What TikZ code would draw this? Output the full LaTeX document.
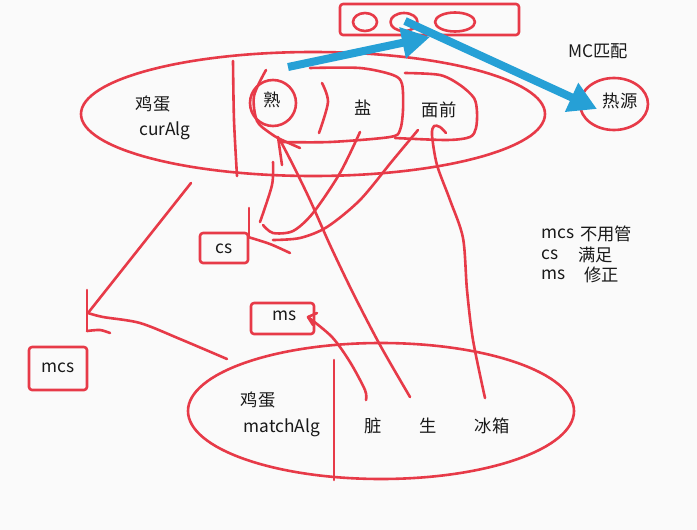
\documentclass[tikz,border=0pt]{standalone}
\usepackage{fontspec}
\setmainfont{Noto Sans CJK SC}
\usetikzlibrary{arrows.meta,shapes.geometric}
\definecolor{pen}{RGB}{231,58,72}
\definecolor{blu}{RGB}{38,160,214}
\definecolor{bg}{RGB}{250,250,250}
\begin{document}
\begin{tikzpicture}[x=1pt,y=-1pt,
  pen/.style={draw=pen,line width=2.6pt,line cap=round,line join=round},
  lbl/.style={font=\fontsize{17.3}{20}\selectfont,inner sep=0pt,text=black!90},
  boxn/.style={pen,rectangle,rounded corners=3pt,inner sep=0pt},
  oval/.style={pen,ellipse,inner sep=0pt},
  bluearrow/.style={draw=blu,line width=8pt,-{Triangle[length=28pt,width=30pt]}}]
\fill[bg] (0,0) rectangle (697,530);
\useasboundingbox (0,0) rectangle (697,530);

% main shapes
\node[oval,minimum width=464pt,minimum height=124pt] (cur) at (313,114) {};
\node[oval,minimum width=386pt,minimum height=136pt] (match) at (381,411) {};
\node[boxn,minimum width=179pt,minimum height=31pt] (topbox) at (429.5,19.5) {};
\node[oval,minimum width=24pt,minimum height=18pt] (o1) at (365,22) {};
\node[oval,minimum width=27pt,minimum height=18pt] (o2) at (404,22) {};
\node[oval,minimum width=40pt,minimum height=19pt] (o3) at (455,22) {};
\node[oval,minimum width=68pt,minimum height=52pt] (heat) at (614,104) {};
\node[pen,circle,minimum size=46pt,inner sep=0pt] (shucirc) at (273,103) {};
\node[boxn,minimum width=48pt,minimum height=30pt] (csbox) at (224,248) {};
\node[boxn,minimum width=63pt,minimum height=31pt] (msbox) at (282.5,318.5) {};
\node[boxn,minimum width=58pt,minimum height=43pt] (mcsbox) at (58,368.5) {};

% texts
\node[lbl] (t1) at (153,104) {鸡蛋};
\node[lbl] (t2) at (165,131) {curAlg};
\node[lbl] (t3) at (272,100) {熟};
\node[lbl] (t4) at (363,108) {盐};
\node[lbl] (t5) at (439,110) {面前};
\node[lbl] (t6) at (598,51) {MC匹配};
\node[lbl] (t7) at (620,101) {热源};
\node[lbl] (tcs) at (224,249) {cs};
\node[lbl] (tms) at (285,316) {ms};
\node[lbl] (tmcs) at (58,368) {mcs};
\node[lbl] (b1) at (258,400) {鸡蛋};
\node[lbl] (b2) at (282,428) {matchAlg};
\node[lbl] (zang) at (373,426) {脏};
\node[lbl] (sheng) at (428,426) {生};
\node[lbl] (bing) at (492,426) {冰箱};
\node[lbl,anchor=west] (l1) at (541,234) {mcs};
\node[lbl,anchor=west] (l1b) at (580,234) {不用管};
\node[lbl,anchor=west] (l2) at (541,255) {cs};
\node[lbl,anchor=west] (l2b) at (578,255) {满足};
\node[lbl,anchor=west] (l3) at (541,275) {ms};
\node[lbl,anchor=west] (l3b) at (584,275) {修正};

% dividers
\draw[pen] plot[smooth] coordinates {(233,61) (234,120) (237,176)};
\draw[pen] (334,360) -- (334,480);

% arcs around words
\draw[pen] plot[smooth] coordinates {(266,70) (254,96) (257,121) (270,133) (280,139) (300,148)};
\draw[pen] plot[smooth] coordinates {(322,83) (328,102) (319,133)};
\draw[pen] plot[smooth] coordinates {(310,68) (360,68) (393,75) (402,84) (403,110) (400,130) (390,137) (330,142) (280,142)};
\draw[pen] plot[smooth] coordinates {(405,73) (440,75) (460,85) (474,98) (477,112) (476,128) (470,137) (447,140) (395,138)};

% 生 -> 熟
\coordinate (shutip) at (278,137);
\draw[pen] plot[smooth] coordinates {(410,397) (380,345) (353,293) (330,245) (310,200) (293,165) (280,140)};
\draw[pen] (shutip) -- (282,165);

% 冰箱 -> 面前
\draw[pen] plot[smooth] coordinates {(485,398) (473,340) (467,290) (463,238) (450,200) (437,165) (432,135) (434,126) (440,127) (446,133)};

% 盐 / 面前 -> cs
\draw[pen] plot[smooth] coordinates {(360,132) (340,173) (313,213) (293,231) (273,233) (263,225)};
\draw[pen] plot[smooth] coordinates {(418,130) (393,160) (360,200) (327,227) (300,238) (273,240)};
\draw[pen] plot[smooth] coordinates {(273,162) (272,185) (260,222)};
\draw[pen] (249,208) -- (249,236);
\draw[pen] plot[smooth] coordinates {(248,237) (270,244) (290,253)};

% -> mcs
\coordinate (mcstip) at (88,313);
\draw[pen] (191,183) -- (mcstip);
\draw[pen] plot[smooth] coordinates {(227,359) (180,339) (140,323) (103,317) (mcstip)};
\draw[pen] (87,290) -- (87,331);
\draw[pen] plot[smooth] coordinates {(87,331) (100,330) (110,333)};

% 脏 -> ms
\coordinate (mstip) at (308,317);
\draw[pen] plot[smooth] coordinates {(366,400) (365,390) (350,362) (332,337) (mstip)};
\draw[pen] (317,313) -- (mstip) -- (313,325);

% blue arrows
\draw[bluearrow] (288,67) -- (430,37);
\draw[bluearrow] (405,21) -- (597,109);
\end{tikzpicture}
\end{document}
